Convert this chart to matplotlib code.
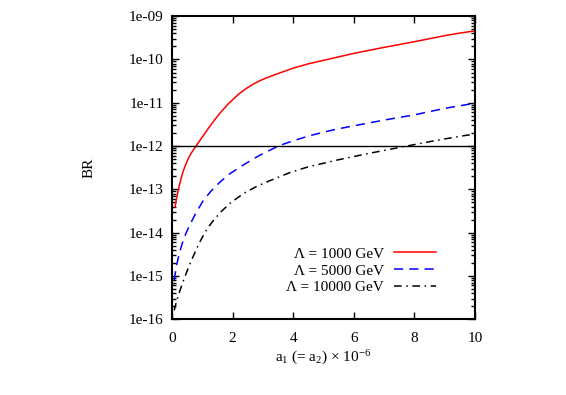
import matplotlib
matplotlib.use("Agg")
import matplotlib.pyplot as plt
from matplotlib.ticker import LogLocator, NullFormatter, FixedLocator

plt.rcParams['font.family'] = ['Liberation Serif', 'DejaVu Serif']
plt.rcParams['mathtext.fontset'] = 'custom'
plt.rcParams['mathtext.rm'] = 'Liberation Serif'
plt.rcParams['mathtext.it'] = 'Liberation Serif'

# values, as log10(BR)
# Lambda = 1000 GeV
x_1000 = [0.1, 0.14, 0.18, 0.22, 0.26, 0.31, 0.36, 0.42, 0.48, 0.55, 0.62, 0.7, 0.79,
          1.0, 1.2, 1.4, 1.58, 1.85, 2.2, 2.45, 2.68, 2.9, 3.1, 3.56, 4.0, 4.5, 5.0,
          5.5, 6.0, 7.0, 8.0, 9.0, 9.5, 10.0]
lg_1000 = [-13.40, -13.24, -13.10, -12.97, -12.85, -12.72, -12.60, -12.48, -12.38,
           -12.27, -12.18, -12.09, -12.00, -11.79, -11.59, -11.40, -11.24, -11.03,
           -10.80, -10.67, -10.57, -10.49, -10.43, -10.31, -10.20, -10.10, -10.02,
           -9.94, -9.86, -9.72, -9.59, -9.45, -9.39, -9.34]

# Lambda = 5000 GeV
x_5000 = [0.07, 0.15, 0.25, 0.35, 0.45, 0.6, 0.8, 1.03, 1.3, 1.6, 1.91, 2.3, 2.8,
          3.1, 3.4, 3.7, 4.0, 4.5, 5.0, 5.5, 6.1, 7.0, 8.0, 9.0, 10.0]
lg_5000 = [-15.10, -14.75, -14.45, -14.22, -14.03, -13.80, -13.53, -13.26, -13.03,
           -12.82, -12.64, -12.46, -12.25, -12.14, -12.04, -11.95, -11.88, -11.77,
           -11.68, -11.60, -11.52, -11.40, -11.28, -11.13, -11.01]

# Lambda = 10000 GeV
x_10000 = [0.07, 0.15, 0.25, 0.37, 0.5, 0.63, 0.76, 0.9, 1.05, 1.2, 1.4, 1.6, 1.9,
           2.35, 2.8, 3.23, 3.9, 4.5, 5.54, 6.5, 7.75, 8.8, 9.73, 10.0]
lg_10000 = [-15.80, -15.58, -15.36, -15.12, -14.88, -14.66, -14.45, -14.24, -14.04,
            -13.87, -13.69, -13.53, -13.33, -13.10, -12.93, -12.80, -12.61, -12.48,
            -12.31, -12.17, -12.00, -11.86, -11.75, -11.73]

labels = ["Λ = 1000 GeV", "Λ = 5000 GeV", "Λ = 10000 GeV"]
limit = 1e-12

y_ticks = [1e-16, 1e-15, 1e-14, 1e-13, 1e-12, 1e-11, 1e-10, 1e-9]
y_ticklabels = ["1e-16", "1e-15", "1e-14", "1e-13", "1e-12", "1e-11", "1e-10", "1e-09"]
x_ticks = [0, 2, 4, 6, 8, 10]

br_1000 = [10 ** v for v in lg_1000]
br_5000 = [10 ** v for v in lg_5000]
br_10000 = [10 ** v for v in lg_10000]

fig = plt.figure(figsize=(5.66, 3.95), dpi=100)
ax = fig.add_axes([0.304, 0.192, 0.535, 0.767])

ax.plot(x_1000, br_1000, color="#ff0000", lw=1.1, label=labels[0])
ax.plot(x_5000, br_5000, color="#0000ff", lw=1.1, dashes=(6, 4), label=labels[1])
ax.plot(x_10000, br_10000, color="black", lw=1.1, dashes=(5, 3, 1, 3), label=labels[2])
ax.axhline(limit, color="black", lw=1.0)

ax.set_yscale("log")
ax.set_xlim(0, 10)
ax.set_ylim(1e-16, 1e-9)
ax.set_yticks(y_ticks)
ax.set_yticklabels(y_ticklabels)
ax.yaxis.set_minor_locator(LogLocator(base=10, subs=range(2, 10), numticks=20))
ax.yaxis.set_minor_formatter(NullFormatter())
ax.xaxis.set_major_locator(FixedLocator(x_ticks))
ax.tick_params(which="both", direction="in", top=True, right=True, labelsize=11, pad=6)
ax.tick_params(axis="x", pad=9)
ax.tick_params(which="major", length=5, width=1)
ax.tick_params(which="minor", length=3, width=1)
for s in ax.spines.values():
    s.set_linewidth(1.5)

ax.set_xlabel(r"a$_1$ (= a$_2$) × 10$^{-6}$", fontsize=11, labelpad=3)
ax.set_ylabel("BR", fontsize=11, labelpad=24)

ax.legend(loc="lower right", bbox_to_anchor=(0.893, 0.062), frameon=False, fontsize=11,
          markerfirst=False, handlelength=2.75, handletextpad=0.7, labelspacing=0.2,
          borderaxespad=0)

fig.savefig("out.png", dpi=100)
